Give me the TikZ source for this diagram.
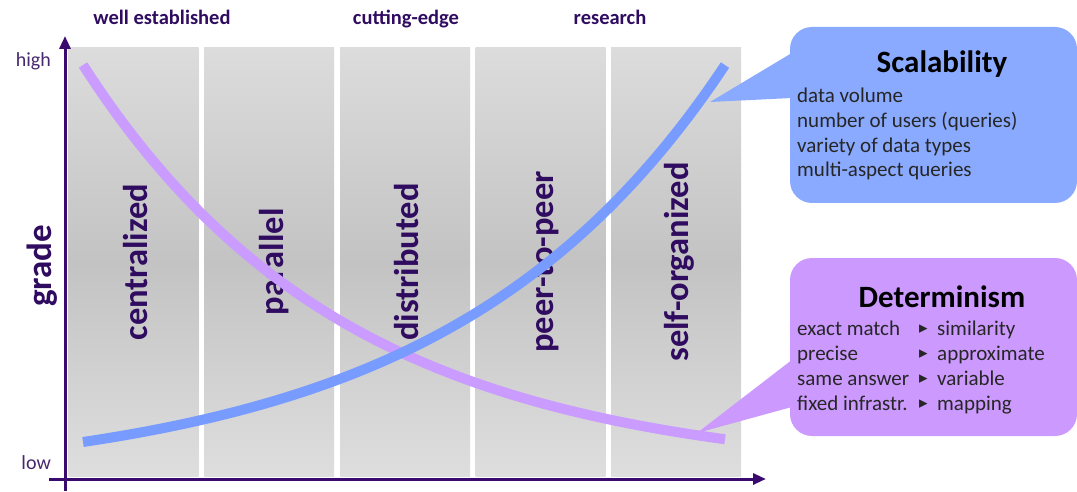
\documentclass[tikz,border=0pt]{standalone}
\usepackage{fontspec}
\setmainfont{Carlito}
\newfontfamily\arrowfont{DejaVu Sans}
\usetikzlibrary{arrows.meta}
\definecolor{txtpurple}{RGB}{48,12,96}
\definecolor{tickpurple}{RGB}{70,40,110}
\definecolor{axispurple}{RGB}{58,10,110}
\definecolor{bluecurve}{RGB}{120,155,255}
\definecolor{bluebox}{RGB}{138,170,255}
\definecolor{purplecurve}{RGB}{202,156,255}
\definecolor{purplebox}{RGB}{204,153,255}
\definecolor{colTop}{RGB}{220,220,220}
\definecolor{colMid}{RGB}{195,195,195}
\definecolor{colBot}{RGB}{222,222,222}
\tikzset{
  colbox/.style={draw=none, rectangle, minimum width=130pt, minimum height=428pt, inner sep=0pt,
    top color=colTop, bottom color=colBot, middle color=colMid},
  collabel/.style={rotate=90, anchor=base, text=txtpurple, font=\bfseries\fontsize{34.5}{40}\selectfont, inner sep=0pt},
  toplabel/.style={anchor=base, text=txtpurple, font=\bfseries\fontsize{20.5}{24}\selectfont, inner sep=0pt},
  ticklabel/.style={anchor=base east, text=tickpurple, font=\fontsize{20}{24}\selectfont, inner sep=0pt},
  axis/.style={draw=axispurple, line width=3pt, -{Triangle[length=13pt,width=11pt]}},
  curve/.style={line width=10pt, line cap=butt},
  callout/.style={rectangle, rounded corners=22pt, minimum width=287pt, inner sep=0pt},
  ctitle/.style={anchor=base, font=\bfseries\fontsize{31}{36}\selectfont, text=black, inner sep=0pt},
  ctext/.style={anchor=base west, font=\fontsize{21}{25}\selectfont, text=black!85, inner sep=0pt},
  tri/.style={anchor=base west, font=\arrowfont\fontsize{17}{20}\selectfont, text=black!85, inner sep=0pt},
}
\begin{document}
\begin{tikzpicture}[x=1pt, y=-1pt]
\useasboundingbox (0,0) rectangle (1077,492);
% columns
\node[colbox] (c1) at (133.5,262) {};
\node[colbox] (c2) at (269,262) {};
\node[colbox] (c3) at (405,262) {};
\node[colbox] (c4) at (540.5,262) {};
\node[colbox] (c5) at (676,262) {};
% column labels
\node[collabel] (l1) at (147,262) {centralized};
\node[collabel] (l2) at (283,262) {parallel};
\node[collabel] (l3) at (418,262) {distributed};
\node[collabel] (l4) at (553,262) {peer-to-peer};
\node[collabel] (l5) at (688,262) {self-organized};
% top labels
\node[toplabel] (t1) at (162,25) {well established};
\node[toplabel] (t2) at (406,25) {cutting-edge};
\node[toplabel] (t3) at (610,25) {research};
% axes
\coordinate (yb) at (65,491);
\coordinate (yt) at (65,36);
\coordinate (xl) at (49,479);
\coordinate (xr) at (766,479);
\draw[axis] (yb) -- (yt);
\draw[axis] (xl) -- (xr);
\node[ticklabel] (hi) at (51,67) {high};
\node[ticklabel] (lo) at (51,469) {low};
\node[rotate=90, anchor=base, text=txtpurple, font=\bfseries\fontsize{35}{40}\selectfont, inner sep=0pt] (grade) at (51,266) {grade};
% curves
\draw[curve, draw=purplecurve] plot[domain=83:725, samples=90, smooth] (\x, {65 + 410*(1-exp(-0.0038*(\x-83)))});
\draw[curve, draw=bluecurve] plot[domain=83:725, samples=90, smooth] (\x, {442 - 41.45*(exp(0.0036*(\x-83))-1)});
% scalability callout
\node[callout, fill=bluebox, minimum height=176pt] (scal) at (933.5,115) {};
\coordinate (stip) at (710,102);
\fill[bluebox] (stip) -- ([yshift=62pt,xshift=2pt]scal.west) -- ([yshift=17pt,xshift=2pt]scal.west) -- cycle;
\node[ctitle] (stitle) at (942,73) {Scalability};
\node[ctext] (s1) at (797,103) {data volume};
\node[ctext] (s2) at (797,128) {number of users (queries)};
\node[ctext] (s3) at (797,153) {variety of data types};
\node[ctext] (s4) at (797,177) {multi-aspect queries};
% determinism callout
\node[callout, fill=purplebox, minimum height=178pt] (det) at (933.5,347) {};
\coordinate (dtip) at (697,433);
\fill[purplebox] (dtip) -- ([yshift=-13pt,xshift=2pt]det.west) -- ([yshift=-60pt,xshift=2pt]det.west) -- cycle;
\node[ctitle] (dtitle) at (942,307) {Determinism};
\node[ctext] (d1a) at (797,335) {exact match};
\node[ctext] (d2a) at (797,360) {precise};
\node[ctext] (d3a) at (797,385) {same answer};
\node[ctext] (d4a) at (797,410) {fixed infrastr.};
\node[tri] (d1m) at (919,333) {▸};
\node[tri] (d2m) at (919,358) {▸};
\node[tri] (d3m) at (919,383) {▸};
\node[tri] (d4m) at (919,408) {▸};
\node[ctext] (d1b) at (937,335) {similarity};
\node[ctext] (d2b) at (937,360) {approximate};
\node[ctext] (d3b) at (937,385) {variable};
\node[ctext] (d4b) at (937,410) {mapping};
\end{tikzpicture}
\end{document}
